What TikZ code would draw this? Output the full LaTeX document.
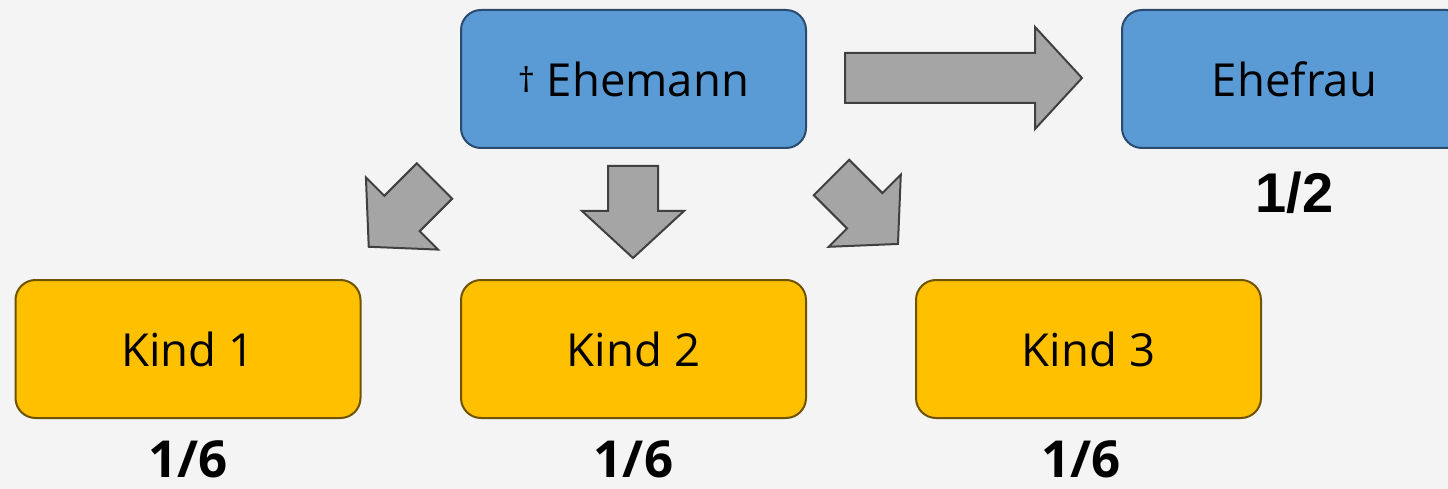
\documentclass[tikz,border=0pt]{standalone}
\usepackage{fontspec}
\setmainfont{Open Sans}
\newfontfamily\arialfont{Liberation Sans}
\definecolor{bg}{HTML}{F4F4F4}
\definecolor{bluefill}{HTML}{5B9BD5}
\definecolor{blueline}{HTML}{2A4A6E}
\definecolor{orangefill}{HTML}{FFC000}
\definecolor{orangeline}{HTML}{6E5300}
\definecolor{arrowfill}{HTML}{A5A5A5}
\definecolor{arrowline}{HTML}{404040}
\newcommand\blockarr[4]{%
  \draw[arrowshape, shift={(#1,#2)}, rotate=#3]
    (0,-25) -- ({#4-47},-25) -- ({#4-47},-51) -- (#4,0) -- ({#4-47},51) -- ({#4-47},25) -- (0,25) -- cycle;}
\begin{document}
\begin{tikzpicture}[x=1pt,y=-1pt,
  box/.style={rounded corners=20pt, minimum width=345pt, minimum height=138pt, line width=2pt,
     font=\fontsize{45.5}{54}\selectfont, inner sep=0pt},
  husband/.style={box, fill=bluefill, draw=blueline},
  child/.style={box, fill=orangefill, draw=orangeline},
  share/.style={font=\fontsize{51}{60}\selectfont\bfseries, anchor=base, inner sep=0pt},
  arrowshape/.style={fill=arrowfill, draw=arrowline, line width=2pt, line join=miter}]
\fill[bg] (0,0) rectangle (1448,489);
\useasboundingbox (0,0) rectangle (1448,489);
\clip (0,0) rectangle (1448,489);
\node[husband] (mann) at (633.5,79) {{\fontsize{34}{40}\selectfont\raisebox{4pt}{†}}~Ehemann};
\node[husband] (frau) at (1294.5,79) {Ehefrau};
\node[child] (k1) at (188,349) {Kind 1};
\node[child] (k2) at (633.5,349) {Kind 2};
\node[child] (k3) at (1088.5,349) {Kind 3};
\node[share, font=\fontsize{56}{64}\selectfont\bfseries\arialfont] (sfrau) at (1294.5,213) {1/2};
\node[share] (s1) at (188,477) {1/6};
\node[share] (s2) at (633.5,477) {1/6};
\node[share] (s3) at (1081,477) {1/6};
% block arrows
\blockarr{845}{78}{0}{237}
\blockarr{633}{166}{-90}{92}
\blockarr{434.5}{181}{-135}{93}
\blockarr{831.5}{177.5}{-45}{94}
\end{tikzpicture}
\end{document}
